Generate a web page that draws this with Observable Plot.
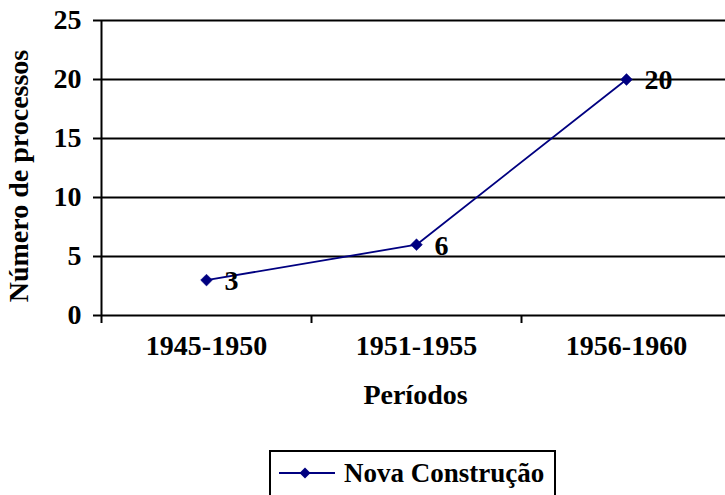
<!DOCTYPE html>
<html>
<head>
<meta charset="utf-8">
<script src="https://cdn.jsdelivr.net/npm/d3@7"></script>
<script src="https://cdn.jsdelivr.net/npm/@observablehq/plot@0.6"></script>
<style>
  html, body { margin: 0; padding: 0; background: #fff; }
  #wrap { position: relative; width: 725px; height: 495px; overflow: hidden; font-family: "Liberation Serif", "Times New Roman", serif; }
  #legend { position: absolute; left: 269px; top: 450px; height: 48px; border: 2px solid #000; box-sizing: border-box;
            display: flex; align-items: center; padding: 0 10px 2px 8px; background: #fff; }
  #legend span { font-weight: bold; font-size: 27px; color: #000; margin-left: 9px; white-space: nowrap; }
</style>
</head>
<body>
<div id="wrap"></div>
<script>
const periods = ["1945-1950", "1951-1955", "1956-1960"];
const values = [3, 6, 20];
const yTicks = [0, 5, 10, 15, 20, 25];
const seriesName = "Nova Construção";
const xTitle = "Períodos";
const yTitle = "Número de processos";

const data = periods.map((p, i) => ({period: p, idx: i + 0.5, value: values[i]}));
const bandEdges = d3.range(periods.length + 1);
const navy = "#000080";
const font = "'Liberation Serif', 'Times New Roman', serif";

const chart = Plot.plot({
  width: 725,
  height: 440,
  marginLeft: 101,
  marginRight: 0,
  marginTop: 20,
  marginBottom: 125,
  style: {fontFamily: font, fontSize: "28px", fontWeight: "bold", color: "#000", background: "#fff"},
  x: {type: "linear", domain: [0, periods.length], range: [101, 731], axis: null},
  y: {type: "linear", domain: [0, 25], axis: null},
  marks: [
    Plot.ruleY(yTicks, {stroke: "#000", strokeWidth: 2}),
    Plot.ruleX([0], {stroke: "#000", strokeWidth: 2}),
    Plot.axisY({ticks: yTicks, tickSize: 8, tickPadding: 12, stroke: "#000", strokeWidth: 2,
      fontSize: 28, fontWeight: "bold", label: null, anchor: "left"}),
    Plot.axisX({ticks: bandEdges, tickSize: 8, tickFormat: () => "", stroke: "#000", strokeWidth: 2, label: null, anchor: "bottom"}),
    Plot.text(data, {x: "idx", text: "period", frameAnchor: "bottom", dy: 39, fontSize: 28, fontWeight: "bold", fill: "#000"}),
    Plot.text([xTitle], {frameAnchor: "bottom", dx: 2, dy: 88, fontSize: 28, fontWeight: "bold", fill: "#000"}),
    Plot.text([yTitle], {frameAnchor: "left", textAnchor: "middle", rotate: -90, dx: -82, dy: 8, fontSize: 28, fontWeight: "bold", fill: "#000"}),
    Plot.line(data, {x: "idx", y: "value", stroke: navy, strokeWidth: 1.8}),
    Plot.dot(data, {x: "idx", y: "value", symbol: "diamond2", r: 5.3, fill: navy, stroke: navy, strokeWidth: 0.5}),
    Plot.text(data, {x: "idx", y: "value", text: d => String(d.value), textAnchor: "start", dx: 18, dy: 1, fontSize: 28, fontWeight: "bold", fill: "#000"})
  ]
});

const wrap = document.getElementById("wrap");
wrap.appendChild(chart);

const legend = document.createElement("div");
legend.id = "legend";
legend.innerHTML = `<svg width="56" height="14" viewBox="0 0 56 14"><line x1="0" y1="7" x2="56" y2="7" stroke="${navy}" stroke-width="2"/><path d="M26,1.5 L31.5,7 L26,12.5 L20.5,7 Z" fill="${navy}"/></svg><span>${seriesName}</span>`;
wrap.appendChild(legend);
</script>
</body>
</html>
